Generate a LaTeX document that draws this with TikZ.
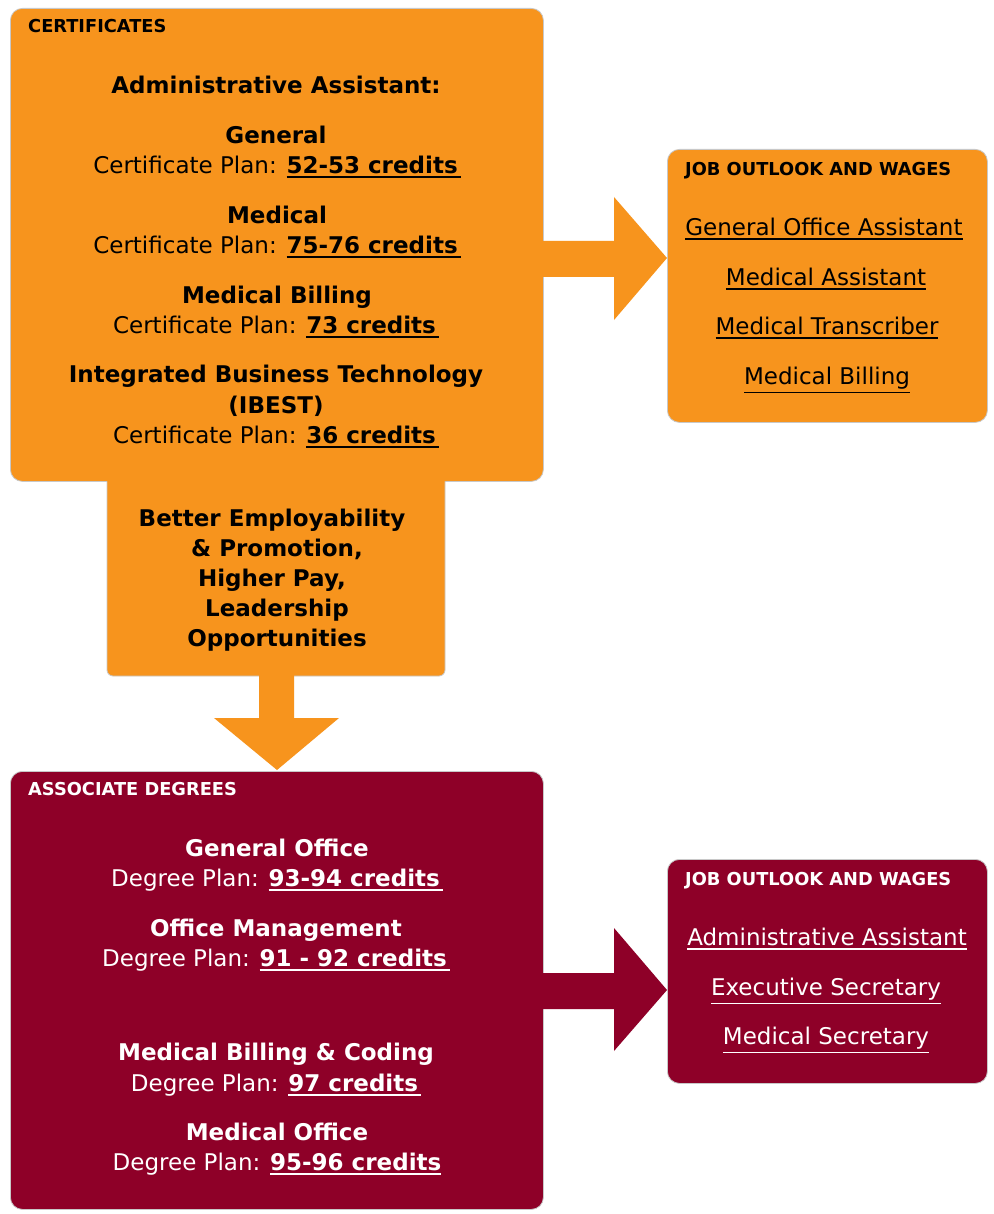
\documentclass[tikz,border=0pt]{standalone}
\usepackage{fontspec}
\setmainfont{DejaVu Sans}
\usetikzlibrary{calc}
\definecolor{orng}{HTML}{F7941D}
\definecolor{maroon}{HTML}{8E0028}
\definecolor{edge}{HTML}{C8C8C8}
\newcommand\ulx[1]{\leavevmode\vtop{\hbox{#1}\kern2.2pt\hrule height 1.7pt}}
\newcommand\ulr[1]{\leavevmode\vtop{\hbox{#1}\kern2.4pt\hrule height 1.3pt}}
\begin{document}
\begin{tikzpicture}[x=1pt,y=-1pt,
  boxo/.style={draw=edge, line width=0.8pt, fill=orng, rounded corners=12pt, inner sep=0pt, anchor=north west},
  boxm/.style={draw=edge, line width=0.8pt, fill=maroon, rounded corners=12pt, inner sep=0pt, anchor=north west},
  hdr/.style={anchor=base west, inner sep=0pt, font=\bfseries\fontsize{17.8}{20}\selectfont},
  tl/.style={anchor=base, inner sep=0pt, font=\fontsize{23}{27}\selectfont},
  tb/.style={anchor=base, inner sep=0pt, font=\bfseries\fontsize{23}{27}\selectfont},
  wt/.style={text=white}
]
\useasboundingbox (0,0) rectangle (993,1214);
\fill[white] (0,0) rectangle (993,1214);

% ---------- certificates ----------
\node[boxo, minimum width=533pt, minimum height=473pt] (cert) at (10,8) {};
\fill[orng, rounded corners=6pt] (107,466) rectangle (445,676);
\draw[edge, line width=0.8pt, rounded corners=6pt] (107,481.4) -- (107,676) -- (445,676) -- (445,481.4);
\coordinate (emp) at (276,578);

% arrow down
\coordinate (dn) at (277,676);
\fill[orng] ($(dn)+(-18,-1)$) -- ($(dn)+(-18,42)$) -- ($(dn)+(-63,42)$) -- ($(dn)+(0,94)$) -- ($(dn)+(62,42)$) -- ($(dn)+(17,42)$) -- ($(dn)+(17,-1)$) -- cycle;

% job box 1
\node[boxo, minimum width=320pt, minimum height=273pt] (job1) at (667,149) {};
\coordinate (ar1) at (543,259);
\fill[orng] ($(ar1)+(-1,-18)$) -- ($(ar1)+(71,-18)$) -- ($(ar1)+(71,-62)$) -- ($(ar1)+(124,-1)$) -- ($(ar1)+(71,61)$) -- ($(ar1)+(71,18)$) -- ($(ar1)+(-1,18)$) -- cycle;

% ---------- associate ----------
\node[boxm, minimum width=533pt, minimum height=438pt] (assoc) at (10,771) {};
\node[boxm, minimum width=320pt, minimum height=224pt] (job2) at (667,859) {};
\coordinate (ar2) at (543,991);
\fill[maroon] ($(ar2)+(-1,-18)$) -- ($(ar2)+(71,-18)$) -- ($(ar2)+(71,-63)$) -- ($(ar2)+(124,-1)$) -- ($(ar2)+(71,60)$) -- ($(ar2)+(71,18)$) -- ($(ar2)+(-1,18)$) -- cycle;

% ---------- texts: certificates ----------
\node[hdr] (h1) at (28,32.5) {CERTIFICATES};
\node[tb] (aa) at (276,93.5) {Administrative Assistant:};
\node[tb] (g1) at (276,143.5) {General};
\node[tl] (g2) at (277,173.5) {Certificate Plan: \ulx{\textbf{52-53 credits}\kern3pt}};
\node[tb] (m1) at (277,223.5) {Medical};
\node[tl] (m2) at (277,253.5) {Certificate Plan: \ulx{\textbf{75-76 credits}\kern3pt}};
\node[tb] (b1) at (277,303.5) {Medical Billing};
\node[tl] (b2) at (276,333.5) {Certificate Plan: \ulx{\textbf{73 credits}\kern3pt}};
\node[tb] (i1) at (276,382.5) {Integrated Business Technology};
\node[tb] (i2) at (276,413.5) {(IBEST)};
\node[tl] (i3) at (276,443.5) {Certificate Plan: \ulx{\textbf{36 credits}\kern3pt}};

\node[tb] (e1) at (272,526.5) {Better Employability};
\node[tb] (e2) at (277,556.5) {\& Promotion,};
\node[tb] (e3) at (272,586.5) {Higher Pay,};
\node[tb] (e4) at (277,616.5) {Leadership};
\node[tb] (e5) at (277,646.5) {Opportunities};

% job 1 texts
\node[hdr] (h2) at (685,175.5) {JOB OUTLOOK AND WAGES};
\node[tl] (j1) at (824,235.5) {\ulr{General Office Assistant}};
\node[tl] (j2) at (826,285.5) {\ulr{Medical Assistant}};
\node[tl] (j3) at (827,334.5) {\ulr{Medical Transcriber}};
\node[tl] (j4) at (827,384.5) {\ulr{Medical Billing}};

% ---------- texts: associate ----------
\node[hdr, wt] (h3) at (28,795.5) {ASSOCIATE DEGREES};
\node[tb, wt] (d1) at (277,856.5) {General Office};
\node[tl, wt] (d2) at (277,886.5) {Degree Plan: \ulx{\textbf{93-94 credits}\kern3pt}};
\node[tb, wt] (d3) at (276,936.5) {Office Management};
\node[tl, wt] (d4) at (276,966.5) {Degree Plan: \ulx{\textbf{91 - 92 credits}\kern3pt}};
\node[tb, wt] (d5) at (276,1060.5) {Medical Billing \& Coding};
\node[tl, wt] (d6) at (276,1091.5) {Degree Plan: \ulx{\textbf{97 credits}\kern3pt}};
\node[tb, wt] (d7) at (277,1140.5) {Medical Office};
\node[tl, wt] (d8) at (277,1170.5) {Degree Plan: \ulx{\textbf{95-96 credits}}};

% job 2 texts
\node[hdr, wt] (h4) at (685,885.5) {JOB OUTLOOK AND WAGES};
\node[tl, wt] (k1) at (827,945.5) {\ulr{Administrative Assistant}};
\node[tl, wt] (k2) at (826,995.5) {\ulr{Executive Secretary}};
\node[tl, wt] (k3) at (826,1044.5) {\ulr{Medical Secretary}};
\end{tikzpicture}
\end{document}
